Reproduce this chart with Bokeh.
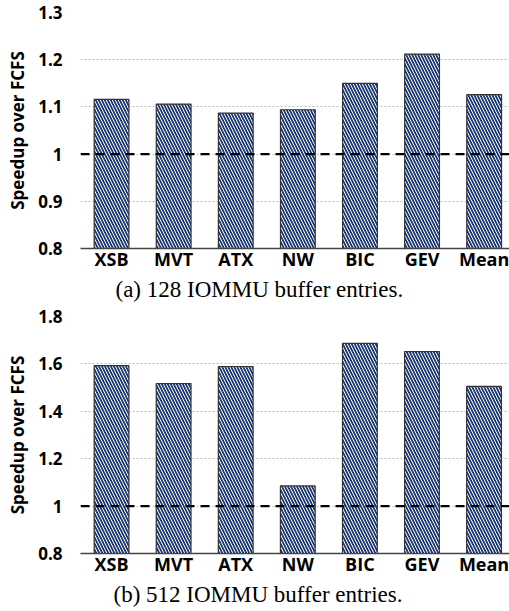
from bokeh.plotting import figure
from bokeh.models import ColumnDataSource, FixedTicker, Span, Title, Range1d
from bokeh.layouts import column
from bokeh.embed import file_html
from bokeh.resources import INLINE

categories = ["XSB", "MVT", "ATX", "NW", "BIC", "GEV", "Mean"]
speedup_128 = [1.116, 1.106, 1.087, 1.094, 1.150, 1.212, 1.126]
speedup_512 = [1.593, 1.517, 1.589, 1.085, 1.687, 1.652, 1.505]
y_ticks_128 = [0.8, 0.9, 1.0, 1.1, 1.2, 1.3]
y_tick_labels_128 = ["0.8", "0.9", "1", "1.1", "1.2", "1.3"]
y_ticks_512 = [0.8, 1.0, 1.2, 1.4, 1.6, 1.8]
y_tick_labels_512 = ["0.8", "1", "1.2", "1.4", "1.6", "1.8"]
baseline = 1.0
y_label = "Speedup over FCFS"
caption_128 = "(a) 128 IOMMU buffer entries."
caption_512 = "(b) 512 IOMMU buffer entries."

BAR_NAVY = "#1f3a78"


def make_panel(values, ticks, tick_labels, caption, left, x_end, fh, top_border):
    xs = list(range(len(categories)))
    src = ColumnDataSource(dict(x=xs, top=values))
    p = figure(width=509, frame_width=509 - left, frame_height=fh,
               output_backend="svg", toolbar_location=None,
               x_range=Range1d(-0.5, x_end),
               y_range=Range1d(ticks[0], ticks[-1]),
               min_border_left=left, min_border_right=0,
               min_border_top=top_border, min_border_bottom=0)
    p.outline_line_color = None
    p.background_fill_color = "white"
    p.border_fill_color = "white"

    p.vbar(x="x", top="top", bottom=ticks[0], width=0.56, source=src,
           fill_color=BAR_NAVY, line_color="#333333", line_width=1.2,
           hatch_pattern="left_diagonal_line", hatch_color="white",
           hatch_scale=6, hatch_weight=1.0)

    p.add_layout(Span(location=baseline, dimension="width",
                      line_color="black", line_width=2.2, line_dash="9 6"))

    # x axis
    p.xaxis.ticker = FixedTicker(ticks=xs)
    p.xaxis.major_label_overrides = {i: c for i, c in enumerate(categories)}
    p.xaxis.major_label_text_font = "Open Sans"
    p.xaxis.major_label_text_font_style = "bold"
    p.xaxis.major_label_text_font_size = "18px"
    p.xaxis.major_label_text_color = "black"
    p.xaxis.major_label_standoff = -8
    p.xaxis.major_tick_line_color = None
    p.xaxis.minor_tick_line_color = None
    p.xaxis.axis_line_color = "#444444"
    p.xaxis.axis_line_width = 1.3
    p.xgrid.grid_line_color = None

    # y axis
    p.yaxis.ticker = FixedTicker(ticks=ticks)
    p.yaxis.major_label_overrides = {t: l for t, l in zip(ticks, tick_labels)}
    p.yaxis.major_label_text_font = "Open Sans"
    p.yaxis.major_label_text_font_style = "bold"
    p.yaxis.major_label_text_font_size = "17px"
    p.yaxis.major_label_text_color = "black"
    p.yaxis.major_label_standoff = 12
    p.yaxis.major_tick_line_color = None
    p.yaxis.minor_tick_line_color = None
    p.yaxis.axis_line_color = None
    p.yaxis.axis_label = y_label
    p.yaxis.axis_label_text_font = "Open Sans"
    p.yaxis.axis_label_text_font_style = "bold"
    p.yaxis.axis_label_text_font_size = "17px"
    p.yaxis.axis_label_text_color = "black"
    p.yaxis.axis_label_standoff = 6
    p.ygrid.grid_line_color = "#bdbdbd"
    p.ygrid.grid_line_dash = "2 2"
    p.ygrid.grid_line_width = 1

    p.add_layout(Title(text=caption, align="left", offset=113 - left,
                       text_font="Liberation Serif", text_font_style="normal",
                       text_font_size="23px", text_color="black", standoff=2),
                 "below")
    return p


p1 = make_panel(speedup_128, y_ticks_128, y_tick_labels_128, caption_128, 78, 6.44, 236, 12)
p2 = make_panel(speedup_512, y_ticks_512, y_tick_labels_512, caption_512, 80, 6.41, 237, 14)
p = column(p1, p2, spacing=0)

open("out.html", "w").write(file_html(p, INLINE))
